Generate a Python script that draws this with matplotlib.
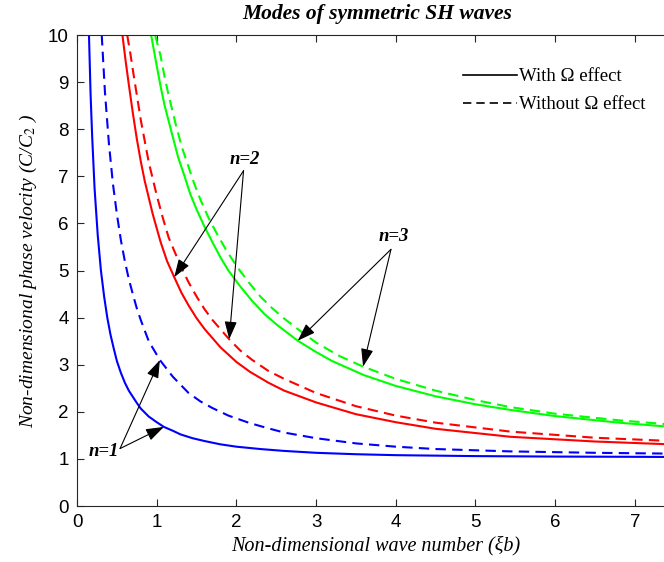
import numpy as np
import matplotlib
matplotlib.use("Agg")
import matplotlib.pyplot as plt

# values (x = xi*b, y = C/C2)
n1_with_x = [0.15, 0.17, 0.19, 0.22, 0.26, 0.30, 0.34, 0.38, 0.42, 0.46, 0.50, 0.55,
             0.60, 0.65, 0.70, 0.75, 0.80, 0.90, 1.00, 1.09, 1.20, 1.30, 1.45, 1.60,
             1.80, 2.00, 2.30, 2.60, 3.00, 3.50, 4.00, 5.00, 6.00, 7.00, 7.60]
n1_with_y = [10.0, 8.75, 7.85, 6.75, 5.75, 5.0, 4.45, 4.0, 3.64, 3.35, 3.08, 2.83,
             2.62, 2.45, 2.32, 2.19, 2.07, 1.9, 1.78, 1.68, 1.6, 1.52, 1.44, 1.38,
             1.31, 1.26, 1.21, 1.17, 1.13, 1.1, 1.08, 1.06, 1.05, 1.045, 1.04]

n1_without_x = [0.31, 0.35, 0.40, 0.45, 0.50, 0.55, 0.60, 0.65, 0.70, 0.75, 0.80, 0.90,
                1.04, 1.20, 1.40, 1.55, 1.70, 1.90, 2.17, 2.40, 2.60, 3.00, 3.50, 4.00,
                4.50, 5.44, 6.50, 7.60]
n1_without_y = [10.0, 8.8, 7.7, 6.85, 6.2, 5.65, 5.2, 4.82, 4.5, 4.2, 3.95, 3.5,
                3.1, 2.75, 2.4, 2.22, 2.08, 1.92, 1.76, 1.65, 1.56, 1.44, 1.33, 1.26,
                1.21, 1.16, 1.13, 1.11]

n2_with_x = [0.57, 0.61, 0.65, 0.70, 0.75, 0.80, 0.85, 0.95, 1.05, 1.13, 1.22, 1.31,
             1.40, 1.50, 1.60, 1.80, 2.00, 2.17, 2.40, 2.60, 3.00, 3.50, 4.00, 4.50,
             5.44, 6.50, 7.60]
n2_with_y = [10.0, 9.45, 8.95, 8.35, 7.8, 7.32, 6.9, 6.2, 5.6, 5.2, 4.86, 4.53,
             4.26, 3.99, 3.76, 3.37, 3.06, 2.85, 2.62, 2.45, 2.2, 1.95, 1.78, 1.64,
             1.47, 1.37, 1.30]

n2_without_x = [0.63, 0.67, 0.72, 0.80, 0.90, 1.00, 1.08, 1.15, 1.30, 1.40, 1.50, 1.60,
                1.70, 1.91, 2.05, 2.20, 2.40, 2.60, 3.00, 3.50, 4.00, 4.50, 5.44, 6.50,
                7.60]
n2_without_y = [10.0, 9.6, 9.05, 8.2, 7.3, 6.6, 6.1, 5.7, 5.1, 4.75, 4.45, 4.18,
                3.95, 3.54, 3.3, 3.1, 2.87, 2.7, 2.4, 2.12, 1.92, 1.77, 1.58, 1.45,
                1.37]

n3_with_x = [0.93, 1.00, 1.05, 1.10, 1.20, 1.27, 1.35, 1.42, 1.50, 1.60, 1.70, 1.80,
             1.90, 2.05, 2.20, 2.35, 2.50, 2.77, 3.00, 3.20, 3.60, 4.00, 4.50, 5.00,
             5.44, 6.00, 6.80, 7.60]
n3_with_y = [10.0, 9.35, 8.9, 8.5, 7.85, 7.4, 7.0, 6.63, 6.3, 5.93, 5.6, 5.28,
             5.0, 4.66, 4.35, 4.08, 3.86, 3.51, 3.27, 3.08, 2.78, 2.55, 2.33, 2.16,
             2.04, 1.91, 1.77, 1.66]

n3_without_x = [0.98, 1.05, 1.10, 1.15, 1.25, 1.32, 1.40, 1.47, 1.55, 1.65, 1.75, 1.87,
                2.00, 2.15, 2.30, 2.45, 2.60, 2.80, 3.00, 3.30, 3.59, 4.00, 4.50, 5.00,
                5.44, 6.00, 6.80, 7.60]
n3_without_y = [10.0, 9.55, 9.1, 8.72, 8.03, 7.6, 7.2, 6.85, 6.5, 6.12, 5.8, 5.44,
                5.1, 4.76, 4.45, 4.2, 3.98, 3.72, 3.47, 3.18, 2.96, 2.70, 2.45, 2.25,
                2.10, 1.96, 1.82, 1.71]

# annotation label positions and arrow targets
labels = ["n=1", "n=2", "n=3"]
label_xy = [(0.33, 1.15), (2.11, 7.35), (3.97, 5.72)]
arrow_start = [(0.54, 1.22), (2.09, 7.12), (3.94, 5.45)]
arrow_tips = [[(1.04, 3.10), (1.09, 1.68)],
              [(1.22, 4.86), (1.91, 3.54)],
              [(2.77, 3.51), (3.59, 2.96)]]

plt.rcParams["mathtext.fontset"] = "stix"
serif = "Liberation Serif"
sans = "Liberation Sans"

fig = plt.figure(figsize=(6.64, 5.62), dpi=100)
ax = fig.add_axes([0.116, 0.0996, 0.9, 0.838])

lw = 1.5
dash = (0, (5, 3))
ax.plot(n1_with_x, n1_with_y, color="#0000ff", lw=lw)
ax.plot(n1_without_x, n1_without_y, color="#0000ff", lw=lw, ls=dash)
ax.plot(n2_with_x, n2_with_y, color="#ff0000", lw=lw)
ax.plot(n2_without_x, n2_without_y, color="#ff0000", lw=lw, ls=dash)
ax.plot(n3_with_x, n3_with_y, color="#00ff00", lw=lw)
ax.plot(n3_without_x, n3_without_y, color="#00ff00", lw=lw, ls=dash)

# legend uses black proxy lines
h1, = ax.plot([], [], color="k", lw=1.2)
h2, = ax.plot([], [], color="k", lw=1.2, ls=dash)
leg = ax.legend([h1, h2], ["With \u03a9 effect", "Without \u03a9 effect"],
                loc="upper left", bbox_to_anchor=(0.617, 0.966), frameon=False,
                prop={"family": serif, "size": 13.5}, handlelength=2.9,
                handletextpad=0.12, labelspacing=0.6)

for lab, lxy, st, tips in zip(labels, label_xy, arrow_start, arrow_tips):
    ax.text(lxy[0], lxy[1], lab, family=serif, style="italic", weight="bold",
            fontsize=13.5, ha="center", va="center")
    for tip in tips:
        ax.annotate("", xy=tip, xytext=st,
                    arrowprops=dict(arrowstyle="-|>,head_length=1.1,head_width=0.38",
                                    color="k", lw=0.8, shrinkA=0, shrinkB=0))

ax.set_xlim(0, 7.5)
ax.set_ylim(0, 10)
ax.set_xticks(range(0, 8))
ax.set_yticks(range(0, 11))
ax.tick_params(direction="in", top=True, right=True, length=5, width=0.8,
               labelsize=13.5, colors="#262626", pad=6)
for lbl in ax.get_xticklabels() + ax.get_yticklabels():
    lbl.set_family(sans)
    lbl.set_color("black")
for s in ax.spines.values():
    s.set_color("#262626")
    s.set_linewidth(0.8)

ax.set_xlabel("Non-dimensional wave number (\u03beb)", family=serif, style="italic",
              fontsize=14.5, labelpad=3)
ax.set_ylabel("Non-dimensional phase velocity (C/C$_2$ )", family=serif,
              style="italic", fontsize=14, labelpad=6)
fig.text(0.568, 0.975, "Modes of symmetric SH waves", family=serif, style="italic",
         weight="bold", fontsize=15.5, ha="center", va="center")

fig.savefig("out.png", dpi=100)
